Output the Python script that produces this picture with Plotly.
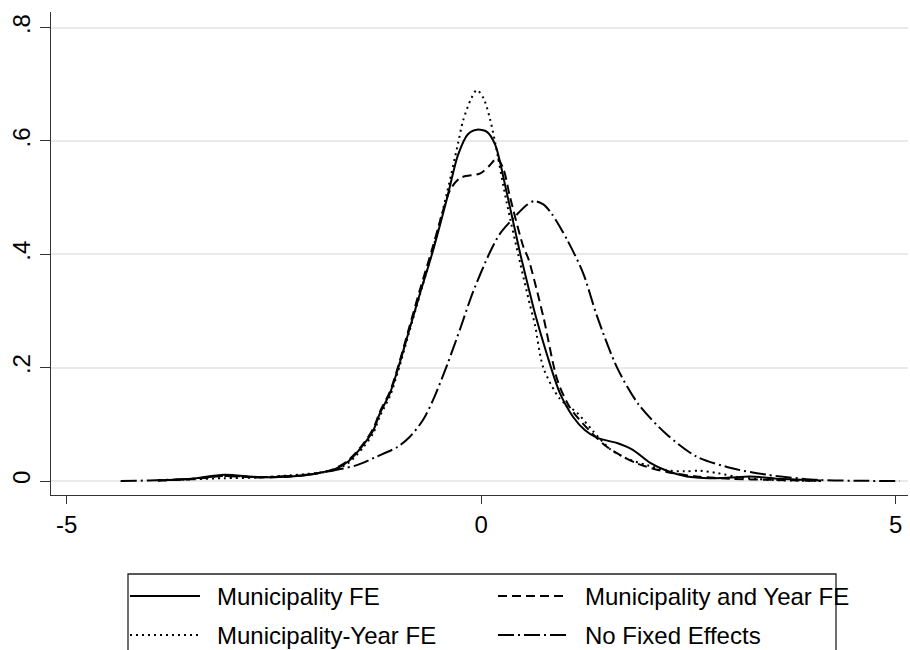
import plotly.graph_objects as go

# ---- data ----
muni_fe_x = [-3.9, -3.5, -3.1, -2.7, -2.3, -2.0, -1.78, -1.6, -1.42, -1.3, -1.22, -1.1, -1.0, -0.87,
             -0.74, -0.59, -0.41, -0.28, -0.16, -0.05, 0.07, 0.17, 0.31, 0.47, 0.59, 0.65, 0.79,
             0.95, 1.11, 1.25, 1.40, 1.64, 1.83, 2.04, 2.24, 2.48, 2.76, 3.0, 3.24, 3.6, 4.1]
muni_fe_y = [0.001, 0.004, 0.011, 0.007, 0.008, 0.013, 0.020, 0.035, 0.064, 0.090, 0.120, 0.155, 0.200, 0.265,
             0.330, 0.402, 0.500, 0.575, 0.612, 0.620, 0.616, 0.593, 0.508, 0.402, 0.330, 0.295, 0.225,
             0.155, 0.113, 0.090, 0.076, 0.067, 0.055, 0.032, 0.018, 0.008, 0.005, 0.006, 0.008, 0.004, 0.001]

muni_year_x = [-3.9, -3.5, -3.1, -2.7, -2.3, -2.0, -1.78, -1.6, -1.42, -1.3, -1.22, -1.1, -1.0, -0.87,
               -0.74, -0.59, -0.41, -0.28, -0.22, -0.12, -0.05, 0.03, 0.11, 0.17, 0.31, 0.47, 0.59,
               0.65, 0.75, 0.95, 1.16, 1.35, 1.55, 1.75, 2.0, 2.24, 2.45, 2.64, 2.85, 3.1, 3.5, 4.1]
muni_year_y = [0.001, 0.003, 0.005, 0.006, 0.010, 0.014, 0.019, 0.032, 0.060, 0.085, 0.115, 0.150, 0.195, 0.262,
               0.328, 0.405, 0.510, 0.595, 0.635, 0.675, 0.690, 0.675, 0.637, 0.596, 0.490, 0.385, 0.310,
               0.275, 0.200, 0.145, 0.120, 0.088, 0.057, 0.040, 0.028, 0.019, 0.017, 0.018, 0.014, 0.007, 0.002, 0.0]

muni_and_year_x = [-3.9, -3.5, -3.1, -2.7, -2.3, -2.0, -1.78, -1.6, -1.42, -1.3, -1.22, -1.1, -1.0, -0.87,
                   -0.74, -0.59, -0.45, -0.37, -0.25, -0.01, 0.11, 0.19, 0.27, 0.35, 0.51, 0.57, 0.75,
                   0.92, 1.07, 1.3, 1.52, 1.88, 2.24, 2.6, 3.0, 3.5, 4.1]
muni_and_year_y = [0.001, 0.003, 0.009, 0.006, 0.008, 0.013, 0.021, 0.037, 0.066, 0.093, 0.123, 0.158, 0.203, 0.270,
                   0.337, 0.410, 0.482, 0.515, 0.535, 0.543, 0.558, 0.570, 0.550, 0.500, 0.413, 0.392, 0.290,
                   0.178, 0.130, 0.090, 0.060, 0.031, 0.016, 0.008, 0.004, 0.002, 0.0]

no_fe_x = [-4.35, -4.0, -3.5, -3.1, -2.7, -2.3, -2.0, -1.7, -1.5, -1.26, -1.01, -0.86, -0.70, -0.58,
           -0.41, -0.25, -0.1, 0.11, 0.23, 0.43, 0.55, 0.64, 0.75, 0.85, 1.04, 1.23, 1.40, 1.64,
           1.9, 2.24, 2.6, 3.04, 3.45, 4.05, 4.5, 5.05]
no_fe_y = [0.0, 0.001, 0.004, 0.009, 0.007, 0.009, 0.013, 0.021, 0.028, 0.043, 0.060, 0.078, 0.108, 0.143,
           0.205, 0.270, 0.333, 0.405, 0.437, 0.470, 0.487, 0.494, 0.488, 0.472, 0.425, 0.367, 0.290, 0.200,
           0.135, 0.082, 0.043, 0.022, 0.011, 0.002, 0.0005, 0.0]

series_names = ["Municipality FE", "Municipality and Year FE", "Municipality-Year FE", "No Fixed Effects"]
series_dash = ["solid", "9px,5px", "2px,4px", "16px,4px,2px,4px"]

x_tick_vals = [-5, 0, 5]
x_tick_text = ["-5", "0", "5"]
y_tick_vals = [0, 0.2, 0.4, 0.6, 0.8]
y_tick_text = ["0", ".2", ".4", ".6", ".8"]

FONT = "Liberation Sans, Arial, sans-serif"
W, H = 910, 650
ML, MR, MT, MB = 51, 2, 12, 155
PW, PH = W - ML - MR, H - MT - MB

def px_x(px):
    return (px - ML) / PW

def px_y(py):
    return (H - MB - py) / PH

fig = go.Figure()
data = [(muni_fe_x, muni_fe_y), (muni_and_year_x, muni_and_year_y),
        (muni_year_x, muni_year_y), (no_fe_x, no_fe_y)]
for (xs, ys), name, dash in zip(data, series_names, series_dash):
    fig.add_trace(go.Scatter(x=xs, y=ys, mode="lines", name=name,
                             line=dict(color="black", width=2, dash=dash, shape="spline", smoothing=0.8),
                             showlegend=False))

# ---- manual Stata-style legend ----
shapes = [dict(type="rect", xref="paper", yref="paper",
               x0=px_x(128), x1=px_x(836), y0=px_y(574), y1=px_y(690),
               line=dict(color="#222", width=1.3), fillcolor="rgba(0,0,0,0)", layer="above")]
annotations = []
slots = [(130, 200, 215, 596), (498, 568, 583, 596), (130, 200, 215, 635), (498, 568, 583, 635)]
for (sx0, sx1, tx, ry), name, dash in zip(slots, series_names, series_dash):
    shapes.append(dict(type="line", xref="paper", yref="paper",
                       x0=px_x(sx0), x1=px_x(sx1), y0=px_y(ry), y1=px_y(ry),
                       line=dict(color="black", width=2, dash=dash)))
    annotations.append(dict(text=name, xref="paper", yref="paper", x=px_x(tx), y=px_y(ry),
                            xanchor="left", yanchor="middle", showarrow=False,
                            font=dict(family=FONT, size=24, color="black")))

fig.update_layout(
    width=W, height=H, margin=dict(l=ML, r=MR, t=MT, b=MB),
    paper_bgcolor="white", plot_bgcolor="white",
    font=dict(family=FONT, size=24, color="black"),
    shapes=shapes, annotations=annotations, showlegend=False,
    xaxis=dict(range=[-5.19, 5.15], tickvals=x_tick_vals, ticktext=x_tick_text,
               showgrid=False, zeroline=False, showline=True, linecolor="#333", linewidth=1.3,
               ticks="outside", ticklen=8, tickcolor="#333", tickwidth=1.3,
               tickfont=dict(family=FONT, size=24, color="black")),
    yaxis=dict(range=[-0.0247, 0.8276], tickvals=y_tick_vals, ticktext=y_tick_text,
               showgrid=True, gridcolor="#EAEAEA", gridwidth=2, zeroline=False,
               showline=True, linecolor="#333", linewidth=1.3,
               ticks="outside", ticklen=10, tickcolor="#333", tickwidth=1.3, tickangle=-90,
               tickfont=dict(family=FONT, size=24, color="black")),
)

fig.write_html("out.html")
